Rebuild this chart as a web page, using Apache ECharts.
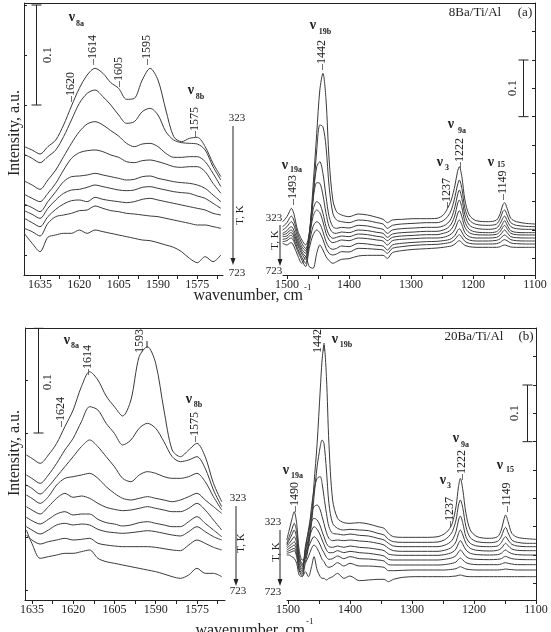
<!DOCTYPE html>
<html>
<head>
<meta charset="utf-8">
<title>Pyridine bands on Ba/Ti/Al</title>
<script src="https://cdn.jsdelivr.net/npm/echarts@6.0.0/dist/echarts.min.js"></script>
<style>
  html, body { margin: 0; padding: 0; background: #fff; }
  #chart { width: 551px; height: 632px; }
</style>
</head>
<body>
<div id="chart"></div>
<script>
const serif = '"Liberation Serif", "Times New Roman", serif'
const ink = '#222'
const traceColor = '#3a3a3a'

// wavenumber samples, cm-1 (a = 8Ba/Ti/Al, b = 20Ba/Ti/Al; 1 = 1640-1565 window, 2 = 1500-1100 window)
const xA1 = [1641, 1638, 1635, 1632, 1629, 1626, 1623, 1620, 1617, 1614, 1611, 1608, 1605, 1602, 1599, 1596, 1593, 1590, 1587, 1584, 1581, 1578, 1575, 1572, 1569, 1566]
const xA2 = [1507, 1500, 1496, 1493, 1489, 1483, 1476, 1470, 1464, 1458, 1452, 1447, 1442, 1437, 1432, 1426, 1420, 1412, 1400, 1385, 1370, 1355, 1345, 1338, 1330, 1315, 1295, 1275, 1258, 1248, 1241, 1235, 1229, 1225, 1222, 1218, 1213, 1206, 1195, 1175, 1162, 1156, 1152, 1149, 1145, 1139, 1130, 1115, 1100]
const xB1 = [1637, 1635, 1632, 1629, 1626, 1623, 1620, 1617, 1614, 1611, 1608, 1605, 1602, 1599, 1596, 1593, 1590, 1587, 1584, 1581, 1578, 1575, 1572, 1569, 1566]
const xB2 = [1502, 1498, 1494, 1490, 1486, 1482, 1477, 1472, 1467, 1462, 1458, 1453, 1448, 1445, 1442, 1438, 1434, 1428, 1420, 1410, 1400, 1385, 1370, 1355, 1345, 1338, 1330, 1315, 1295, 1275, 1258, 1248, 1241, 1235, 1229, 1225, 1222, 1218, 1213, 1206, 1195, 1175, 1162, 1156, 1152, 1149, 1145, 1139, 1130, 1115, 1100]

// intensity (a.u., stacked as plotted), first row = 323 K, last row = 723 K
const specA1 = [
  [385, 375, 363, 385, 405, 450, 507, 560, 600, 620, 605, 577, 560, 527, 530, 585, 620, 585, 495, 415, 400, 410, 413, 385, 335, 295],
  [362, 350, 337, 355, 375, 415, 465, 515, 545, 555, 535, 510, 480, 455, 460, 490, 500, 480, 430, 405, 397, 395, 393, 375, 325, 285],
  [282, 270, 257, 285, 315, 355, 395, 430, 453, 460, 450, 433, 417, 395, 385, 393, 395, 385, 365, 353, 353, 355, 355, 340, 305, 265],
  [242, 230, 220, 245, 275, 315, 350, 367, 373, 375, 370, 360, 353, 340, 337, 343, 345, 340, 333, 325, 323, 325, 325, 310, 275, 245],
  [213, 202, 190, 220, 250, 280, 295, 297, 300, 305, 300, 295, 290, 285, 287, 295, 297, 290, 285, 280, 277, 275, 270, 260, 240, 220],
  [193, 182, 170, 200, 225, 245, 255, 257, 263, 270, 265, 260, 255, 253, 255, 263, 265, 260, 255, 250, 247, 245, 237, 230, 215, 200],
  [170, 157, 145, 175, 197, 213, 223, 225, 220, 233, 227, 223, 220, 217, 220, 227, 230, 225, 220, 215, 210, 205, 200, 195, 185, 180],
  [140, 130, 117, 155, 175, 180, 185, 193, 195, 207, 200, 193, 190, 185, 183, 180, 177, 175, 170, 165, 160, 155, 150, 150, 145, 140],
  [125, 95, 70, 113, 120, 125, 125, 135, 125, 135, 130, 125, 120, 115, 110, 105, 103, 97, 90, 83, 70, 50, 37, 55, 40, 60]
]
const specA2 = [
  [160, 175, 190, 200, 185, 135, 105, 90, 125, 265, 425, 555, 605, 525, 345, 225, 190, 180, 175, 183, 180, 173, 167, 157, 165, 167, 169, 169, 170, 180, 200, 225, 270, 310, 325, 295, 225, 180, 163, 160, 165, 185, 210, 217, 200, 170, 160, 155, 153],
  [145, 157, 170, 177, 165, 125, 95, 80, 110, 225, 375, 450, 445, 385, 265, 185, 165, 160, 157, 165, 163, 157, 153, 140, 149, 153, 155, 157, 157, 163, 175, 195, 235, 270, 285, 260, 200, 165, 152, 149, 153, 170, 190, 195, 180, 157, 149, 146, 145],
  [135, 145, 155, 160, 150, 115, 85, 73, 120, 235, 325, 340, 305, 235, 175, 145, 140, 143, 141, 149, 147, 141, 137, 125, 135, 139, 141, 143, 143, 147, 155, 170, 205, 240, 255, 230, 180, 150, 140, 137, 141, 155, 170, 177, 163, 145, 139, 137, 137],
  [125, 133, 142, 145, 135, 105, 77, 65, 125, 225, 277, 275, 240, 185, 145, 127, 125, 129, 127, 135, 133, 128, 125, 113, 123, 127, 129, 131, 131, 135, 141, 153, 180, 213, 225, 203, 160, 137, 129, 127, 130, 141, 155, 163, 150, 133, 128, 127, 127],
  [120, 125, 133, 135, 125, 97, 70, 55, 120, 195, 220, 213, 185, 145, 120, 110, 113, 117, 115, 123, 121, 116, 113, 103, 113, 117, 119, 121, 121, 125, 129, 137, 157, 183, 193, 175, 143, 127, 121, 120, 122, 131, 143, 149, 139, 125, 121, 120, 120],
  [115, 117, 125, 127, 117, 90, 63, 47, 110, 175, 195, 187, 160, 125, 105, 97, 100, 105, 103, 111, 109, 105, 102, 90, 103, 107, 109, 111, 111, 113, 117, 123, 137, 157, 165, 151, 127, 115, 111, 111, 113, 120, 130, 135, 127, 115, 112, 111, 111],
  [107, 110, 117, 119, 109, 80, 53, 35, 95, 145, 160, 153, 130, 100, 83, 77, 80, 87, 85, 95, 93, 89, 87, 75, 90, 95, 98, 100, 101, 103, 105, 109, 119, 133, 139, 129, 113, 105, 102, 102, 104, 109, 117, 120, 115, 106, 103, 102, 102],
  [100, 103, 109, 111, 101, 73, 45, 25, 80, 120, 135, 127, 107, 80, 65, 60, 63, 70, 69, 80, 79, 77, 75, 65, 80, 85, 89, 91, 92, 94, 96, 99, 107, 117, 121, 113, 101, 95, 93, 93, 94, 98, 104, 106, 103, 96, 94, 93, 93],
  [95, 90, 95, 97, 87, 60, 35, 55, 25, 20, 65, 90, 75, 55, 43, 35, 40, 47, 49, 57, 59, 59, 59, 50, 67, 73, 77, 79, 81, 83, 85, 87, 93, 100, 103, 97, 89, 85, 83, 83, 83, 85, 89, 90, 88, 84, 83, 83, 83]
]
const specB1 = [
  [435, 425, 410, 435, 470, 520, 570, 640, 685, 660, 612, 580, 552, 600, 730, 760, 710, 570, 450, 430, 450, 470, 430, 350, 295],
  [375, 365, 350, 375, 410, 450, 485, 535, 580, 570, 530, 500, 465, 480, 515, 530, 515, 475, 430, 415, 420, 430, 395, 330, 280],
  [345, 335, 318, 340, 370, 400, 430, 460, 480, 460, 430, 400, 365, 355, 375, 385, 380, 370, 365, 365, 370, 380, 355, 310, 270],
  [315, 305, 290, 310, 345, 365, 370, 375, 380, 365, 340, 320, 305, 300, 305, 310, 305, 300, 295, 300, 310, 320, 300, 280, 260],
  [280, 270, 258, 280, 305, 320, 308, 312, 305, 290, 278, 272, 268, 270, 275, 280, 275, 270, 265, 265, 275, 290, 270, 240, 210],
  [248, 238, 228, 242, 258, 265, 255, 258, 258, 242, 232, 228, 222, 225, 232, 235, 230, 225, 220, 220, 235, 250, 230, 210, 190],
  [220, 210, 198, 210, 225, 230, 225, 228, 225, 212, 205, 202, 200, 202, 205, 208, 205, 200, 195, 192, 205, 220, 205, 190, 180],
  [195, 180, 168, 175, 180, 185, 180, 182, 185, 170, 165, 162, 160, 160, 160, 160, 158, 154, 150, 148, 165, 180, 170, 158, 150],
  [210, 170, 125, 130, 135, 140, 140, 145, 150, 125, 115, 110, 105, 100, 95, 90, 85, 78, 70, 65, 75, 95, 80, 80, 70]
]
const specB2 = [
  [180, 210, 240, 265, 230, 150, 120, 125, 170, 250, 350, 470, 630, 720, 765, 670, 470, 300, 245, 232, 230, 232, 228, 220, 215, 200, 190, 188, 188, 188, 190, 198, 210, 230, 280, 340, 365, 330, 260, 210, 190, 185, 190, 210, 240, 255, 235, 200, 188, 184, 182],
  [170, 190, 210, 230, 205, 135, 110, 115, 160, 230, 310, 400, 460, 480, 470, 390, 290, 230, 215, 210, 212, 210, 208, 200, 195, 182, 175, 173, 173, 173, 174, 180, 190, 205, 240, 285, 300, 275, 220, 187, 175, 172, 176, 190, 210, 218, 202, 180, 173, 170, 170],
  [165, 180, 195, 210, 185, 125, 105, 130, 190, 280, 330, 365, 370, 350, 310, 260, 220, 200, 198, 195, 198, 194, 192, 185, 180, 170, 162, 160, 160, 160, 160, 164, 170, 180, 205, 240, 252, 230, 190, 170, 162, 160, 162, 172, 185, 190, 180, 167, 162, 160, 160],
  [160, 170, 180, 190, 170, 118, 100, 150, 210, 260, 280, 285, 270, 250, 230, 202, 185, 178, 180, 178, 180, 177, 175, 170, 165, 155, 148, 146, 146, 146, 146, 149, 153, 160, 175, 200, 210, 195, 170, 155, 149, 147, 149, 155, 165, 170, 163, 153, 149, 148, 148],
  [155, 162, 168, 175, 158, 110, 92, 160, 205, 235, 245, 240, 222, 205, 190, 170, 160, 158, 162, 158, 162, 158, 156, 152, 148, 138, 135, 134, 134, 134, 134, 136, 139, 143, 153, 170, 178, 167, 150, 140, 136, 135, 136, 140, 147, 150, 145, 139, 136, 135, 135],
  [150, 155, 160, 165, 148, 102, 85, 150, 180, 208, 220, 212, 195, 180, 167, 150, 142, 142, 148, 142, 146, 142, 140, 136, 132, 122, 120, 120, 120, 120, 120, 122, 124, 127, 133, 144, 150, 142, 130, 124, 122, 121, 122, 124, 129, 131, 128, 124, 122, 121, 121],
  [145, 148, 152, 155, 138, 94, 78, 135, 158, 180, 190, 182, 165, 152, 142, 128, 122, 124, 132, 124, 130, 124, 123, 120, 117, 106, 105, 105, 105, 105, 105, 106, 108, 110, 114, 122, 126, 120, 112, 108, 106, 106, 106, 108, 111, 112, 110, 108, 106, 106, 106],
  [140, 142, 145, 148, 130, 88, 72, 110, 130, 155, 165, 155, 135, 122, 115, 102, 98, 102, 112, 102, 110, 102, 102, 100, 98, 88, 88, 89, 90, 90, 90, 90, 91, 92, 94, 98, 100, 97, 93, 91, 90, 90, 90, 91, 92, 93, 92, 91, 90, 90, 90],
  [135, 135, 130, 125, 110, 75, 70, 85, 70, 100, 130, 90, 70, 65, 65, 60, 65, 70, 80, 65, 72, 58, 60, 62, 62, 55, 62, 68, 70, 70, 70, 70, 70, 71, 72, 74, 75, 73, 71, 70, 70, 70, 70, 70, 70, 70, 70, 70, 70, 70, 70]
]

// axis ticks and labels
const xTicksNarrow = [1567.5, 1575, 1582.5, 1590, 1597.5, 1605, 1612.5, 1620, 1627.5, 1635]
const xLabelsNarrow = [1575, 1590, 1605, 1620, 1635]
const xTicksWide = [1100, 1150, 1200, 1250, 1300, 1350, 1400, 1450, 1500]
const xLabelsWide = [1100, 1200, 1300, 1400, 1500]
const yTicksA1 = [60, 210, 360, 510, 660, 810]
const yTicksB1 = [30, 187, 344, 501, 658, 815]
const yTicksWide = [50, 135, 220, 305, 390, 475, 560, 645, 730]

// 0.1 a.u. scale bars: [wavenumber, from, to]
const scaleBars = [[1636.5, 510, 810], [1119.4, 475, 645], [1632.8, 501, 815], [1114.5, 475, 645]]

const panels = [
  { grid: { left: 24, top: 3, width: 199, height: 272 }, xRange: [1565.2, 1641.1], xs: xA1, spectra: specA1, xTicks: xTicksNarrow, xLabels: xLabelsNarrow, yTicks: yTicksA1, ySide: 'left' },
  { grid: { left: 283, top: 3, width: 252, height: 272 }, xRange: [1100, 1506.4], xs: xA2, spectra: specA2, xTicks: xTicksWide, xLabels: xLabelsWide, yTicks: yTicksWide, ySide: 'right' },
  { grid: { left: 25, top: 328, width: 200, height: 272 }, xRange: [1564.8, 1637.5], xs: xB1, spectra: specB1, xTicks: xTicksNarrow, xLabels: xLabelsNarrow, yTicks: yTicksB1, ySide: 'left' },
  { grid: { left: 287, top: 328, width: 249, height: 272 }, xRange: [1100, 1501.6], xs: xB2, spectra: specB2, xTicks: xTicksWide, xLabels: xLabelsWide, yTicks: yTicksWide, ySide: 'right' }
]

const chart = echarts.init(document.getElementById('chart'))

const option = {
  animation: false,
  backgroundColor: '#fff',
  grid: panels.map(p => Object.assign({ containLabel: false, outerBoundsMode: 'none' }, p.grid)),
  xAxis: panels.map((p, i) => ({
    gridIndex: i,
    type: 'value',
    inverse: true,
    min: p.xRange[0],
    max: p.xRange[1],
    axisLine: { show: true, onZero: false, lineStyle: { color: ink, width: 1 } },
    axisTick: { show: true, inside: false, length: 4, customValues: p.xTicks, lineStyle: { color: ink } },
    axisLabel: { customValues: p.xLabels, margin: 4, color: ink, fontFamily: serif, fontSize: 12, formatter: v => String(v) },
    splitLine: { show: false }
  })),
  yAxis: panels.map((p, i) => ({
    gridIndex: i,
    type: 'value',
    position: p.ySide,
    min: 0,
    max: 816,
    axisLine: { show: true, onZero: false, lineStyle: { color: ink, width: 1 } },
    axisTick: { show: true, inside: true, length: 3, customValues: p.yTicks, lineStyle: { color: ink } },
    axisLabel: { show: false },
    splitLine: { show: false }
  })),
  series: []
}

panels.forEach((p, i) => {
  p.spectra.forEach(row => {
    option.series.push({
      type: 'line',
      xAxisIndex: i,
      yAxisIndex: i,
      data: p.xs.map((x, k) => [x, row[k]]),
      showSymbol: false,
      smooth: 0.3,
      silent: true,
      lineStyle: { color: traceColor, width: 1 }
    })
  })
})

chart.setOption(option)

// ---- annotations ----
function text(x, y, s, size, extra) {
  const st = Object.assign({ text: s, fill: ink, fontFamily: serif, fontSize: size, align: 'center', verticalAlign: 'middle' }, extra || {})
  return { type: 'text', x: x, y: y, silent: true, style: st }
}
function upText(x, y, s, size, align) {
  return { type: 'text', x: x, y: y, rotation: Math.PI / 2, silent: true,
    style: { text: s, fill: ink, fontFamily: serif, fontSize: size, align: align || 'center', verticalAlign: 'middle' } }
}
function seg(x1, y1, x2, y2) {
  return { type: 'line', silent: true, shape: { x1: x1, y1: y1, x2: x2, y2: y2 }, style: { stroke: ink, lineWidth: 1 } }
}
function nu(x, y, sub, sx, sy) {
  return [
    text(x, y, 'ν', 14, { fontWeight: 'bold' }),
    text(sx, sy, sub, 8, { fontWeight: 'bold' })
  ]
}
function tempArrow(lx, ly, ax, a1, a2, kx, ky, bx, by) {
  return [
    text(lx, ly, '323', 11),
    seg(ax, a1, ax, a2 - 5),
    { type: 'polygon', silent: true, shape: { points: [[ax - 2.5, a2 - 7], [ax + 2.5, a2 - 7], [ax, a2]] }, style: { fill: ink } },
    upText(kx, ky, 'T, K', 11),
    text(bx, by, '723', 11)
  ]
}

const g = []
// frame tops
g.push(seg(24, 3.5, 535, 3.5))
g.push(seg(25, 328.5, 536, 328.5))

// axis titles
g.push(upText(15, 133, 'Intensity, a.u.', 16))
g.push(upText(15, 453, 'Intensity, a.u.', 16))
g.push(text(303, 296, 'wavenumber, cm', 16, { align: 'right' }))
g.push(text(304, 288, '-1', 9, { align: 'left' }))
g.push(text(305, 631, 'wavenumber, cm', 16, { align: 'right' }))
g.push(text(306, 622, '-1', 9, { align: 'left' }))

// sample names
g.push(text(475, 13, '8Ba/Ti/Al', 13), text(525, 13, '(a)', 13))
g.push(text(474, 337, '20Ba/Ti/Al', 13), text(526, 337, '(b)', 13))

// peak positions, read bottom-up
const peakTags = [
  ['–1620', 71, 102], ['–1614', 93, 65], ['–1605', 119, 87], ['–1595', 147, 65], ['–1575', 195, 137],
  ['–1493', 293, 205], ['–1442', 322, 70], ['–1237', 447, 208], ['–1222', 460, 168], ['–1149', 503, 200],
  ['–1624', 61, 427], ['–1614', 88, 375], ['–1575', 195, 442],
  ['–1490', 295, 512], ['–1237', 450, 527], ['–1222', 462, 480], ['–1149', 507, 512]
]
peakTags.forEach(t => g.push(upText(t[1], t[2], t[0], 12, 'left')))
g.push(upText(140, 353, '1593', 12, 'left'), seg(147, 341, 147, 348))
g.push(upText(318, 353, '1442', 12, 'left'), seg(324, 343, 324, 351))

// band assignments
g.push(...nu(72, 17, '8a', 80, 24), ...nu(191, 90, '8b', 200, 97))
g.push(...nu(313, 25, '19b', 325, 32), ...nu(285, 165, '19a', 296, 170), ...nu(440, 162, '3', 447, 168),
  ...nu(451, 124, '9a', 462, 131), ...nu(491, 162, '15', 501, 165))
g.push(...nu(67, 340, '8a', 75, 346), ...nu(189, 399, '8b', 198, 405))
g.push(...nu(335, 339, '19b', 346, 345), ...nu(286, 470, '19a', 297, 476), ...nu(443, 480, '3', 449, 486),
  ...nu(456, 438, '9a', 465, 445), ...nu(500, 465, '15', 510, 470))

// temperature arrows
g.push(...tempArrow(237, 118, 233, 126, 265, 240, 215, 237, 273))
g.push(...tempArrow(274, 218, 280, 225, 266, 275, 240, 274, 271))
g.push(...tempArrow(238, 498, 236, 506, 586, 241, 543, 238, 591))
g.push(...tempArrow(273, 522, 280, 530, 586, 276, 552, 273, 592))

// 0.1 scale bars
const barText = [[48, 55], [513, 88], [48, 382], [515, 413]]
scaleBars.forEach((b, i) => {
  const p1 = chart.convertToPixel({ gridIndex: i }, [b[0], b[1]])
  const p2 = chart.convertToPixel({ gridIndex: i }, [b[0], b[2]])
  const x = Math.round(p1[0]) + 0.5
  g.push(seg(x, p1[1], x, p2[1]), seg(x - 5, p1[1], x + 5, p1[1]), seg(x - 5, p2[1], x + 5, p2[1]))
  g.push(upText(barText[i][0], barText[i][1], '0.1', 13))
})

chart.setOption({ graphic: { elements: g } })
</script>
</body>
</html>
